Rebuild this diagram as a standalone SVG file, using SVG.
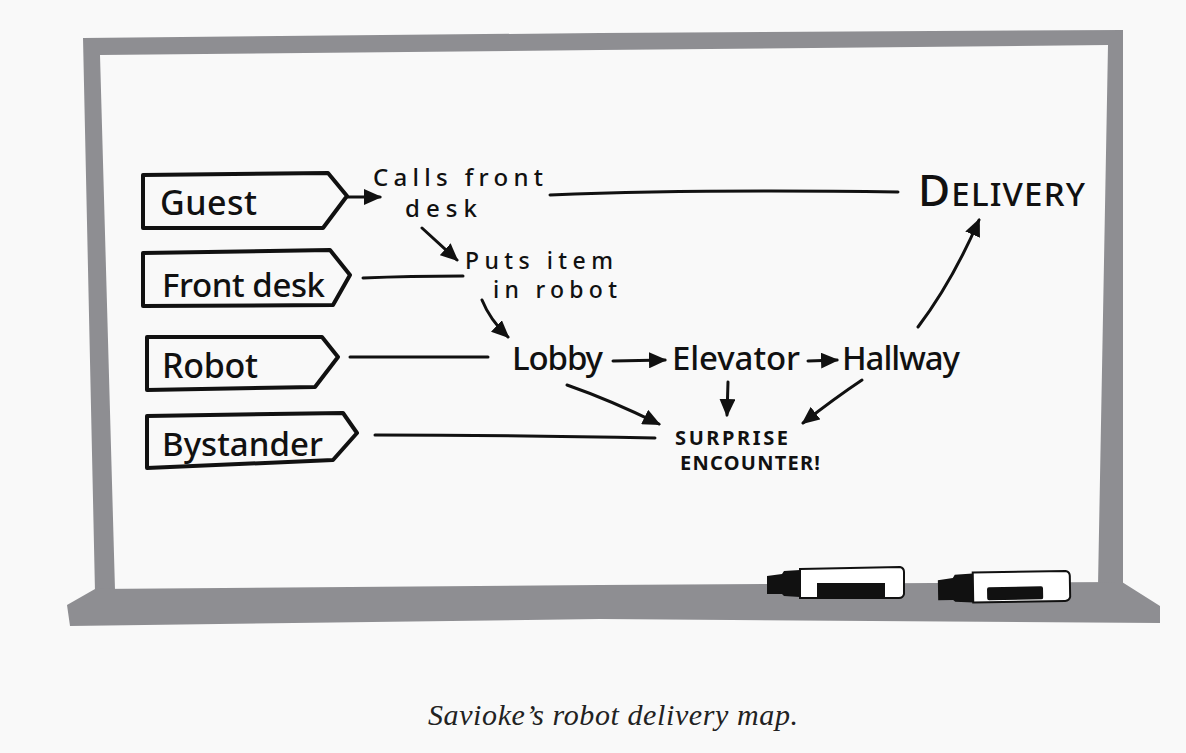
<svg xmlns="http://www.w3.org/2000/svg" width="1186" height="753" viewBox="0 0 1186 753">
<style>
.bg{fill:#f9f9f9}
.frame{fill:#8e8e92}
.tag{fill:none;stroke:#111;stroke-width:4;stroke-linejoin:round;stroke-linecap:round}
.hand{font-family:"Noto Sans","DejaVu Sans",sans-serif;font-weight:500;fill:#111}
.caps{font-family:"Noto Sans","DejaVu Sans",sans-serif;font-weight:700;fill:#111}
.cap{font-family:"Liberation Serif",serif;font-style:italic;fill:#222}
.ln{fill:none;stroke:#111;stroke-width:3;stroke-linecap:round}
.arr{fill:none;stroke:#111;stroke-width:3;stroke-linecap:round;marker-end:url(#ah)}
</style>
<defs>
<marker id="ah" viewBox="0 0 18 16" refX="16" refY="8" markerWidth="18" markerHeight="16" markerUnits="userSpaceOnUse" orient="auto">
<path d="M0,0 L18,8 L0,16 Z" fill="#111"/>
</marker>
</defs>
<rect class="bg" x="0" y="0" width="1186" height="753"/>
<g id="whiteboard">
<path class="frame" fill-rule="evenodd" d="M83,38 L600,33 L1123,30 L1123,590 L95,592 Z M100,55 L600,50 L1108,45 L1098,586 L115,590 Z"/>
<path class="frame" d="M95,589 L600,585 L1122,582 L1160,606 L1160,623 L600,619 L70,626 L67,605 Z"/>
</g>
<g id="markers">
<g id="marker1">
<path d="M767,576 L782,574 L784,571 L800,570 L800,597 L784,596 L782,594 L767,594 Z" fill="#111"/>
<path d="M800,569 L900,567 Q904,568 904,572 L904,594 Q903,598 899,598 L800,598 Z" fill="#fff" stroke="#111" stroke-width="2"/>
<rect x="817" y="583" width="68" height="14" fill="#111"/>
</g>
<g id="marker2" transform="rotate(-1 1004 588)">
<path d="M938,579 L953,577 L955,574 L973,573 L973,602 L955,601 L953,599 L938,599 Z" fill="#111"/>
<path d="M973,572 L1066,572 Q1070,573 1070,577 L1070,598 Q1069,602 1065,602 L973,602 Z" fill="#fff" stroke="#111" stroke-width="2"/>
<rect x="987" y="587" width="56" height="13" rx="2" fill="#111"/>
</g>
</g>
<g id="connectors">
<path class="arr" d="M348,197 L380,197"/>
<path class="ln" d="M550,195 Q700,189 898,192"/>
<path class="arr" d="M422,228 L457,260"/>
<path class="ln" d="M363,278 Q410,276 463,276"/>
<path class="arr" d="M482,300 Q490,320 508,337"/>
<path class="ln" d="M350,357 L488,357"/>
<path class="arr" d="M613,361 L665,360"/>
<path class="arr" d="M808,361 L837,360"/>
<path class="ln" d="M375,435 Q500,435 655,438"/>
<path class="arr" d="M567,385 Q610,400 659,424"/>
<path class="arr" d="M728,382 L727,415"/>
<path class="arr" d="M862,380 Q835,398 803,423"/>
<path class="arr" d="M918,327 Q952,282 979,220"/>
</g>
<g id="tag-guest">
<path class="tag" d="M143,175 L328,173 L347,196 L323,228 L143,228 Z"/>
<text class="hand" x="160" y="215" font-size="34" textLength="97">Guest</text>
</g>
<g id="tag-frontdesk">
<path class="tag" d="M143,253 L330,250 L350,275 L333,305 L143,306 Z"/>
<text class="hand" x="162" y="297" font-size="33" textLength="163">Front desk</text>
</g>
<g id="tag-robot">
<path class="tag" d="M147,337 L322,337 L338,357 L315,387 L147,390 Z"/>
<text class="hand" x="162" y="378" font-size="34" textLength="96">Robot</text>
</g>
<g id="tag-bystander">
<path class="tag" d="M147,416 L343,413 L357,433 L333,460 L147,468 Z"/>
<text class="hand" x="162" y="456" font-size="33" textLength="161">Bystander</text>
</g>
<g id="node-calls">
<text class="hand" font-size="24"><tspan x="373" y="186" textLength="170">Calls front</tspan><tspan x="405" y="217" textLength="72">desk</tspan></text>
</g>
<g id="node-puts">
<text class="hand" font-size="23"><tspan x="465" y="269" textLength="148">Puts item</tspan><tspan x="493" y="298" textLength="124">in robot</tspan></text>
</g>
<g id="node-lobby">
<text class="hand" x="512" y="370" font-size="33" textLength="91">Lobby</text>
</g>
<g id="node-elevator">
<text class="hand" x="672" y="370" font-size="33" textLength="128">Elevator</text>
</g>
<g id="node-hallway">
<text class="hand" x="842" y="370" font-size="33" textLength="118">Hallway</text>
</g>
<g id="node-surprise">
<text class="caps" font-size="20"><tspan x="675" y="445" textLength="113">SURPRISE</tspan><tspan x="680" y="470" textLength="140">ENCOUNTER!</tspan></text>
</g>
<g id="node-delivery">
<text class="hand" x="918" y="206" textLength="167"><tspan font-size="44">D</tspan><tspan font-size="33">ELIVERY</tspan></text>
</g>
<text class="cap" x="428" y="725" font-size="30" textLength="370">Savioke’s robot delivery map.</text>
</svg>
